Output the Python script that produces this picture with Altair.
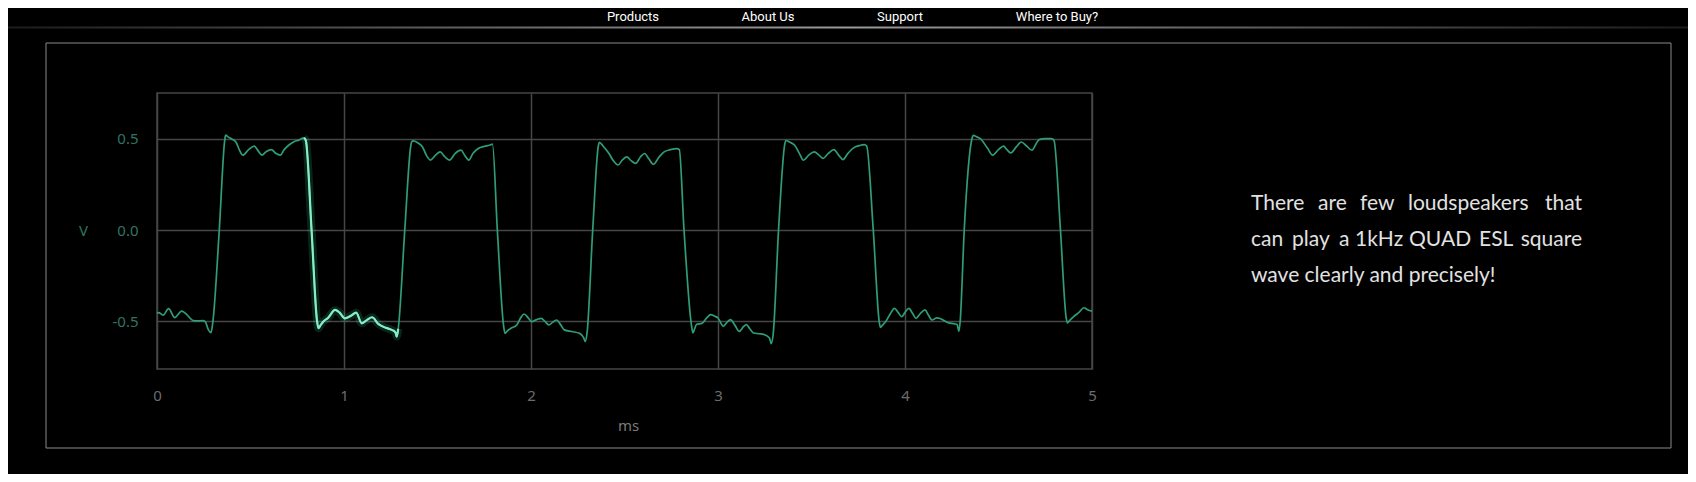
import altair as alt
import pandas as pd

# ---------------- data ----------------
T_MS = [
    0.000, 0.009, 0.033, 0.062, 0.095, 0.132, 0.162, 0.193, 0.218, 0.244, 0.258, 0.275, 0.289, 0.299, 0.333, 0.362, 0.367,
    0.380, 0.397, 0.422, 0.440, 0.459, 0.490, 0.520, 0.540, 0.561, 0.585, 0.612, 0.635, 0.659, 0.680, 0.704, 0.735, 0.755, 0.786, 0.796, 0.827, 0.855, 0.863,
    0.875, 0.889, 0.915, 0.952, 0.975, 1.005, 1.035, 1.065, 1.095, 1.125, 1.150, 1.185, 1.225, 1.255, 1.275, 1.282, 1.290, 1.325, 1.357, 1.362,
    1.370, 1.400, 1.420, 1.440, 1.462, 1.490, 1.514, 1.540, 1.564, 1.595, 1.626, 1.645, 1.667, 1.690, 1.718, 1.750, 1.778, 1.794, 1.820, 1.853, 1.861,
    1.875, 1.893, 1.924, 1.945, 1.963, 1.985, 2.004, 2.030, 2.055, 2.075, 2.096, 2.115, 2.137, 2.160, 2.178, 2.219, 2.260, 2.282, 2.290, 2.300, 2.330, 2.360, 2.366,
    2.385, 2.417, 2.440, 2.465, 2.490, 2.512, 2.535, 2.560, 2.585, 2.608, 2.630, 2.655, 2.685, 2.712, 2.745, 2.780, 2.793, 2.818, 2.858, 2.866,
    2.875, 2.885, 2.915, 2.940, 2.961, 2.980, 3.000, 3.028, 3.048, 3.067, 3.090, 3.114, 3.135, 3.152, 3.170, 3.190, 3.220, 3.248, 3.275, 3.285, 3.295, 3.324, 3.357, 3.362,
    3.385, 3.410, 3.435, 3.457, 3.485, 3.515, 3.540, 3.562, 3.590, 3.620, 3.645, 3.668, 3.695, 3.725, 3.755, 3.782, 3.795, 3.830, 3.862, 3.868,
    3.880, 3.897, 3.920, 3.944, 3.963, 3.983, 4.000, 4.021, 4.040, 4.059, 4.083, 4.107, 4.125, 4.145, 4.170, 4.190, 4.231, 4.265, 4.279, 4.288, 4.295, 4.317, 4.358, 4.365,
    4.385, 4.403, 4.440, 4.469, 4.500, 4.527, 4.545, 4.565, 4.595, 4.622, 4.650, 4.679, 4.700, 4.717, 4.750, 4.784, 4.797, 4.831, 4.862, 4.869,
    4.880, 4.898, 4.930, 4.957, 4.975, 4.986, 5.000,
]
VOLTS = [
    -0.455, -0.452, -0.465, -0.430, -0.479, -0.443, -0.465, -0.495, -0.497, -0.495, -0.501, -0.546, -0.561, -0.500, 0.000, 0.490, 0.519,
    0.510, 0.500, 0.482, 0.440, 0.410, 0.440, 0.459, 0.435, 0.410, 0.430, 0.440, 0.420, 0.410, 0.440, 0.464, 0.485, 0.491, 0.504, 0.490, -0.009, -0.490, -0.537,
    -0.520, -0.501, -0.480, -0.437, -0.450, -0.483, -0.470, -0.452, -0.510, -0.490, -0.477, -0.515, -0.535, -0.546, -0.560, -0.583, -0.540, 0.000, 0.460, 0.483,
    0.488, 0.474, 0.455, 0.410, 0.383, 0.410, 0.428, 0.400, 0.383, 0.420, 0.437, 0.410, 0.383, 0.420, 0.446, 0.458, 0.464, 0.470, 0.000, -0.520, -0.565,
    -0.550, -0.537, -0.519, -0.480, -0.459, -0.480, -0.501, -0.490, -0.483, -0.500, -0.519, -0.505, -0.492, -0.520, -0.546, -0.555, -0.565, -0.590, -0.610, -0.560, 0.000, 0.460, 0.480,
    0.460, 0.419, 0.380, 0.356, 0.385, 0.400, 0.380, 0.365, 0.400, 0.419, 0.390, 0.360, 0.400, 0.428, 0.440, 0.446, 0.440, 0.005, -0.520, -0.563,
    -0.540, -0.517, -0.510, -0.480, -0.463, -0.470, -0.481, -0.526, -0.505, -0.490, -0.520, -0.554, -0.530, -0.517, -0.540, -0.563, -0.567, -0.572, -0.590, -0.621, -0.570, 0.005, 0.470, 0.490,
    0.480, 0.464, 0.420, 0.382, 0.410, 0.428, 0.410, 0.392, 0.420, 0.440, 0.410, 0.386, 0.420, 0.450, 0.462, 0.468, 0.460, 0.005, -0.500, -0.532,
    -0.520, -0.500, -0.460, -0.428, -0.450, -0.474, -0.450, -0.428, -0.455, -0.483, -0.455, -0.437, -0.465, -0.492, -0.480, -0.485, -0.507, -0.513, -0.517, -0.554, -0.500, 0.005, 0.500, 0.518,
    0.510, 0.500, 0.450, 0.410, 0.440, 0.459, 0.440, 0.422, 0.455, 0.482, 0.460, 0.437, 0.470, 0.495, 0.500, 0.500, 0.490, 0.005, -0.480, -0.508,
    -0.495, -0.477, -0.450, -0.425, -0.435, -0.440, -0.443,
]
X_TICKS = [0, 1, 2, 3, 4, 5]
Y_TICKS = [-0.5, 0.0, 0.5]
X_TITLE = "ms"
Y_TITLE = "V"
NAV = ["Products", "About Us", "Support", "Where to Buy?"]
PARA_LINE1 = ["There", "are", "few", "loudspeakers", "that"]
PARA_LINE2 = ["can", "play", "a", "1kHz", "QUAD", "ESL", "square"]
PARA_LINE3 = "wave clearly and precisely!"
HIGHLIGHT = [0.786, 1.29]

# ---------------- layout (pixels relative to plot area) ----------------
W, H = 935, 276
PAD = {"left": 149, "top": 85, "right": 596, "bottom": 105}
NAV_X = [476, 611, 743, 900]
NAV_Y = -76
L1_X = [1094, 1161, 1203, 1251, 1425]
L2_X = [1094, 1135, 1182, 1198, 1252, 1322, 1425]
BASE_Y = [117, 153, 189]

df = pd.DataFrame({"t": T_MS, "v": VOLTS})

xs = alt.Scale(domain=[0, 5], nice=False, zero=False)
ys = alt.Scale(domain=[-0.76, 0.75], nice=False, zero=False)

x_axis = alt.Axis(values=X_TICKS, format="d", grid=True, gridColor="#464646", gridWidth=1.5,
                  domain=False, ticks=False, tickSize=0, labelPadding=26, labelBaseline="middle",
                  labelFlush=False,
                  labelColor="#6c6c6c", labelFontSize=15, labelFont="Noto Sans",
                  title=X_TITLE, titleColor="#7a7a7a", titleFontSize=15, titleFont="Noto Sans",
                  titleFontWeight="normal", titleX=471, titleY=56, titleBaseline="middle")
y_axis = alt.Axis(values=Y_TICKS, grid=True, gridColor="#464646", gridWidth=1.5,
                  domain=False, ticks=False, tickSize=0, labelPadding=19, labelFlush=False,
                  labelExpr="replace(format(datum.value, '.1f'), '\u2212', '-')",
                  labelColor="#2f7562", labelFontSize=15, labelFont="Noto Sans",
                  title=Y_TITLE, titleColor="#2f7562", titleFontSize=15, titleFont="Noto Sans",
                  titleFontWeight="normal", titleAngle=0, titleX=-74, titleY=137,
                  titleAlign="center", titleBaseline="middle")


def box(x1, x2, y1, y2, **kw):
    return alt.Chart(alt.Data(values=[{"k": 0}])).mark_rect(**kw).encode(
        x=alt.value(x1), x2=alt.value(x2), y=alt.value(y1), y2=alt.value(y2))


def text_at(s, x, y, **kw):
    return alt.Chart(alt.Data(values=[{"s": s}])).mark_text(**kw).encode(
        text="s:N", x=alt.value(x), y=alt.value(y))


base = alt.Chart(df)
main = base.mark_line(color="#2f9c7a", strokeWidth=1.7, interpolate="monotone").encode(
    x=alt.X("t:Q", scale=xs, axis=x_axis),
    y=alt.Y("v:Q", scale=ys, axis=y_axis),
    order="t:Q",
)
hl_filter = f"datum.t >= {HIGHLIGHT[0]} && datum.t <= {HIGHLIGHT[1]}"
glow = base.transform_filter(hl_filter).mark_line(
    color="#3fe0a8", strokeWidth=8, opacity=0.16, interpolate="monotone").encode(
    x=alt.X("t:Q", scale=xs), y=alt.Y("v:Q", scale=ys), order="t:Q")
bright = base.transform_filter(hl_filter).mark_line(
    color="#86eec4", strokeWidth=2.2, interpolate="monotone").encode(
    x=alt.X("t:Q", scale=xs), y=alt.Y("v:Q", scale=ys), order="t:Q")

deco = [
    box(-111, 1514, -50, 355, fill="transparent", stroke="#8a8a8a", strokeWidth=1),
    box(-157, 1539, -66.5, -64.5, fill=alt.Gradient(
        gradient="linear", x1=0, x2=1, y1=0, y2=0,
        stops=[alt.GradientStop(color="#1a1a1a", offset=0),
               alt.GradientStop(color="#9a9a9a", offset=0.5),
               alt.GradientStop(color="#1a1a1a", offset=1)])),
]
para_kw = dict(font="Lato", fontSize=21, color="#e2e2e2", baseline="alphabetic")
for s, x in zip(NAV, NAV_X):
    deco.append(text_at(s, x, NAV_Y, font="Roboto", fontSize=13, color="#ffffff",
                        align="center", baseline="middle"))
for i, (s, x) in enumerate(zip(PARA_LINE1, L1_X)):
    deco.append(text_at(s, x, BASE_Y[0], align="right" if i == len(PARA_LINE1) - 1 else "left", **para_kw))
for i, (s, x) in enumerate(zip(PARA_LINE2, L2_X)):
    deco.append(text_at(s, x, BASE_Y[1], align="right" if i == len(PARA_LINE2) - 1 else "left", **para_kw))
deco.append(text_at(PARA_LINE3, 1094, BASE_Y[2], align="left", **para_kw))

chart = alt.layer(main, glow, bright, *deco).properties(
    width=W, height=H, padding=PAD,
    autosize=alt.AutoSizeParams(type="none"),
).configure(background="#000000").configure_view(stroke="#464646", strokeWidth=1.5)

chart.save("out.html", embed_options={"renderer": "svg", "actions": False})
